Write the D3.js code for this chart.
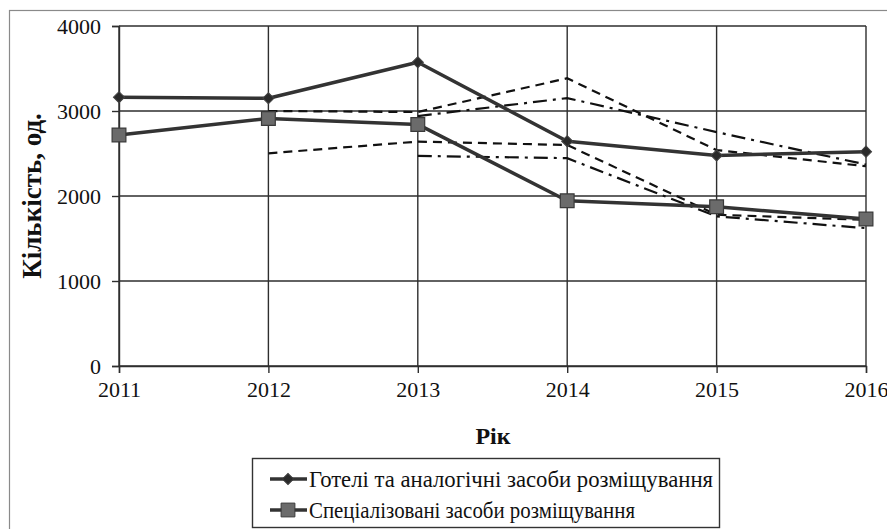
<!DOCTYPE html>
<html>
<head>
<meta charset="utf-8">
<script src="https://cdn.jsdelivr.net/npm/d3@7/dist/d3.min.js"></script>
<style>
  body { margin: 0; background: #fff; }
  svg { display: block; }
  svg text { font-family: "Liberation Serif", "Times New Roman", serif; }
</style>
</head>
<body>
<svg id="chart"></svg>
<script>
// Data
var years = [2011, 2012, 2013, 2014, 2015, 2016];
var hotels = [3162, 3150, 3573, 2645, 2476, 2522];
var specialized = [2718, 2912, 2842, 1944, 1873, 1729];
// dashed / dash-dot helper lines (null = not drawn for that year)
var upperDashed = [null, 3000, 2988, 3385, 2540, 2350];
var upperDashDot = [null, null, 2940, 3152, 2752, 2370];
var lowerDashed = [null, 2502, 2640, 2600, 1780, 1720];
var lowerDashDot = [null, null, 2472, 2445, 1760, 1622];
var yTicks = [0, 1000, 2000, 3000, 4000];
var seriesNames = ["Готелі та аналогічні засоби розміщування", "Спеціалізовані засоби розміщування"];

var svg_width = 887, svg_height = 529;
var svg = d3.select("#chart")
  .attr("width", svg_width)
  .attr("height", svg_height);

// outer frame
svg.append("rect")
  .attr("x", 9.5).attr("y", 10.5)
  .attr("width", 890).attr("height", 540)
  .attr("fill", "#fff")
  .attr("stroke", "#8a8a8a")
  .attr("stroke-width", 1.2);

var x = d3.scalePoint().domain(years).range([119, 866]);
var y = d3.scaleLinear().domain([0, 4000]).range([366, 26]);

var font = "Liberation Serif, Times New Roman, serif";

// grid
var grid = svg.append("g").attr("stroke", "#2e2e2e").attr("stroke-width", 1.4);
grid.selectAll(".h").data(yTicks).enter().append("line")
  .attr("x1", x(2011)).attr("x2", x(2016))
  .attr("y1", d => y(d)).attr("y2", d => y(d));
grid.selectAll(".v").data(years).enter().append("line")
  .attr("x1", d => x(d)).attr("x2", d => x(d))
  .attr("y1", y(0)).attr("y2", y(4000));

// axes
var yAxis = svg.append("g")
  .attr("transform", "translate(" + x(2011) + ",0)")
  .call(d3.axisLeft(y).tickValues(yTicks).tickSize(7).tickPadding(11).tickFormat(d3.format("d")));
var xAxis = svg.append("g")
  .attr("transform", "translate(0," + y(0) + ")")
  .call(d3.axisBottom(x).tickSize(7).tickPadding(8).tickFormat(d3.format("d")));
[yAxis, xAxis].forEach(function(a) {
  a.attr("font-family", font).attr("font-size", 22);
  a.selectAll("line, path").attr("stroke", "#2e2e2e").attr("stroke-width", 1.4);
  a.selectAll("text").attr("fill", "#111");
});

// axis titles
svg.append("text")
  .text("Кількість, од.")
  .attr("transform", "translate(41,196) rotate(-90)")
  .attr("text-anchor", "middle")
  .attr("font-family", font)
  .attr("font-size", 27)
  .attr("font-weight", "bold")
  .attr("fill", "#111");

svg.append("text")
  .text("Рік")
  .attr("x", 493).attr("y", 444)
  .attr("text-anchor", "middle")
  .attr("font-family", font)
  .attr("font-size", 24)
  .attr("font-weight", "bold")
  .attr("fill", "#111");

// helper lines
function drawHelper(values, dash) {
  var line = d3.line()
    .defined(d => d[1] != null)
    .x(d => x(d[0]))
    .y(d => y(d[1]));
  svg.append("path")
    .datum(years.map((yr, i) => [yr, values[i]]))
    .attr("d", line)
    .attr("fill", "none")
    .attr("stroke", "#111")
    .attr("stroke-width", 2.2)
    .attr("stroke-dasharray", dash);
}
drawHelper(upperDashed, "9,6");
drawHelper(lowerDashed, "9,6");
drawHelper(upperDashDot, "14,6,3,6");
drawHelper(lowerDashDot, "14,6,3,6");

// main series
var mainLine = d3.line().x(d => x(d[0])).y(d => y(d[1]));
function drawSeries(values) {
  svg.append("path")
    .datum(years.map((yr, i) => [yr, values[i]]))
    .attr("d", mainLine)
    .attr("fill", "none")
    .attr("stroke", "#333")
    .attr("stroke-width", 3.5)
    .attr("stroke-linejoin", "round");
}
drawSeries(hotels);
drawSeries(specialized);

var diamond = d3.symbol(d3.symbolSquare, 62);
var square = d3.symbol(d3.symbolSquare, 190);

svg.append("g").selectAll("path").data(years).enter().append("path")
  .attr("d", diamond)
  .attr("transform", (d, i) => "translate(" + x(d) + "," + y(hotels[i]) + ") rotate(45)")
  .attr("fill", "#2a2a2a")
  .attr("stroke", "#444").attr("stroke-width", 1);

svg.append("g").selectAll("path").data(years).enter().append("path")
  .attr("d", square)
  .attr("transform", (d, i) => "translate(" + x(d) + "," + y(specialized[i]) + ")")
  .attr("fill", "#6b6b6b")
  .attr("stroke", "#3a3a3a").attr("stroke-width", 1.2);

// legend
var legend = svg.append("g");
legend.append("rect")
  .attr("x", 252.5).attr("y", 458.5)
  .attr("width", 467).attr("height", 69)
  .attr("fill", "#fff")
  .attr("stroke", "#333").attr("stroke-width", 1.4);

var rows = legend.selectAll(".row").data(seriesNames).enter().append("g")
  .attr("transform", (d, i) => "translate(0," + (479 + i * 31) + ")");
rows.append("line")
  .attr("x1", 270).attr("x2", 307)
  .attr("stroke", "#333").attr("stroke-width", 3.5);
rows.append("path")
  .attr("d", (d, i) => i === 0 ? diamond() : square())
  .attr("transform", (d, i) => "translate(288,0)" + (i === 0 ? " rotate(45)" : ""))
  .attr("fill", (d, i) => i === 0 ? "#2a2a2a" : "#6b6b6b")
  .attr("stroke", "#3a3a3a").attr("stroke-width", 1);
rows.append("text")
  .text(d => d)
  .attr("x", 309).attr("y", 8)
  .attr("font-family", font)
  .attr("font-size", 24)
  .attr("fill", "#111")
  .attr("textLength", (d, i) => i === 0 ? 404 : 326)
  .attr("lengthAdjust", "spacingAndGlyphs");
</script>
</body>
</html>
